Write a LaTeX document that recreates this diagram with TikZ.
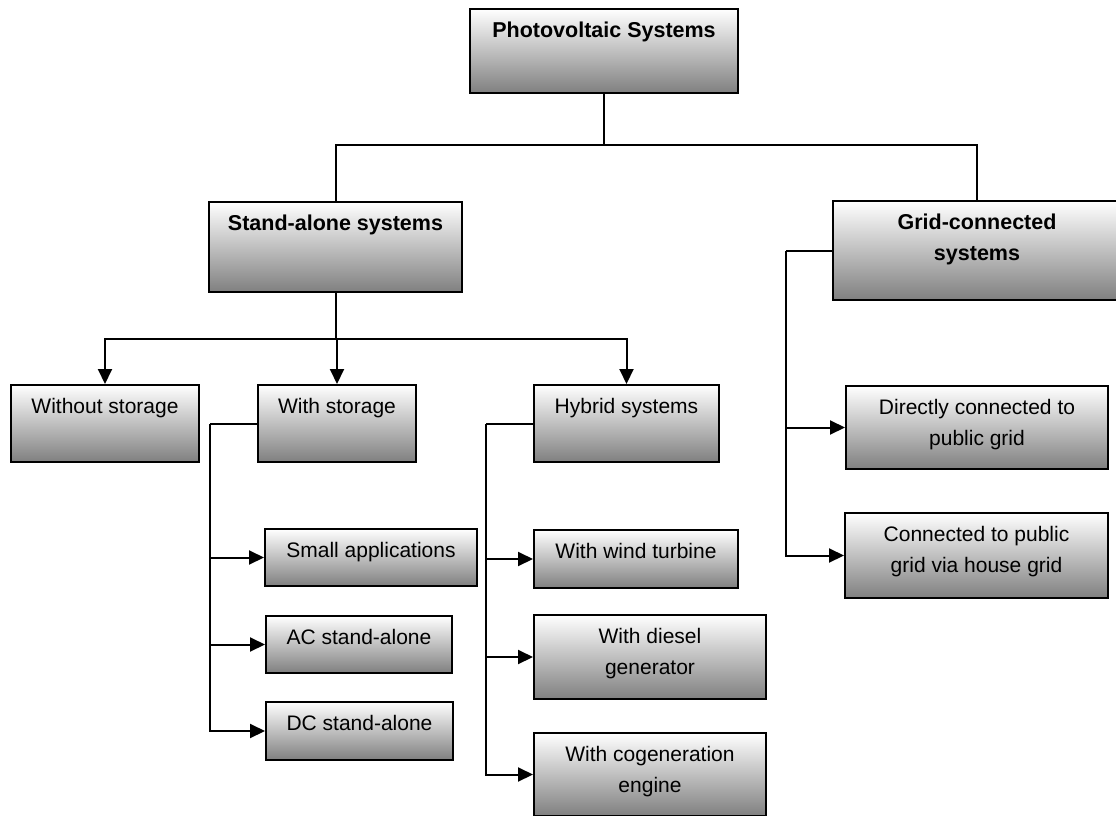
\documentclass[tikz,border=0pt]{standalone}
\usepackage{fontspec}
\setmainfont{Liberation Sans}
\usetikzlibrary{arrows.meta,fit}
\tikzset{
  gbox/.style={draw=black, line width=2pt, top color=white, bottom color=black!50, inner sep=0pt, rectangle},
  boxtext/.style={inner sep=0pt, align=center, font=\fontsize{21}{31}\selectfont},
  headtext/.style={boxtext, font=\fontsize{21.5}{31}\selectfont\bfseries},
  conn/.style={line width=2pt, draw=black},
  arr/.style={conn, -{Triangle[length=15pt,width=14pt]}},
}
\newcommand\pvbox[7][boxtext]{%
  \node[gbox, fit={(#3,#4)(#5,#6)}] (#2) {};
  \node[#1, anchor=north] (#2t) at ([yshift=-14pt]#2.north) {#7};
}
\begin{document}
\begin{tikzpicture}[x=1pt,y=-1pt]
\useasboundingbox (0,0) rectangle (1116,816);
\pvbox[headtext]{pv}{470}{9}{738}{93}{Photovoltaic Systems}
\pvbox[headtext]{sa}{209}{202}{462}{292}{Stand-alone systems}
\pvbox[headtext]{gc}{833}{201}{1121}{300}{Grid-connected\\systems}
\pvbox{wo}{11}{385}{199}{462}{Without storage}
\pvbox{ws}{258}{385}{416}{462}{With storage}
\pvbox{hy}{534}{385}{719}{462}{Hybrid systems}
\pvbox{sm}{265}{529}{477}{586}{Small applications}
\pvbox{ac}{266}{616}{452}{673}{AC stand-alone}
\pvbox{dc}{266}{702}{453}{760}{DC stand-alone}
\pvbox{wt}{534}{530}{738}{588}{With wind turbine}
\pvbox{dg}{534}{615}{766}{699}{With diesel\\generator}
\pvbox{cg}{534}{733}{766}{816}{With cogeneration\\engine}
\pvbox{dp}{846}{386}{1108}{469}{Directly connected to\\public grid}
\pvbox{cp}{845}{513}{1108}{598}{Connected to public\\grid via house grid}

\coordinate (j1) at (604,145);
\draw[conn] (pv.south) -- (j1);
\draw[conn] (j1) -| (sa.north);
\draw[conn] (j1) -| (gc.north);

\coordinate (j2) at (sa.south |- 0,339);
\draw[conn] (sa.south) -- (j2);
\draw[arr] (j2) -| (wo.north);
\draw[arr] (j2) -| (ws.north);
\draw[arr] (j2) -| (hy.north);

\coordinate (wsj) at (210,423.5);
\draw[conn] (ws.west) -- (wsj);
\draw[arr] (wsj) |- (sm.west);
\draw[arr] (wsj) |- (ac.west);
\draw[arr] (wsj) |- (dc.west);

\coordinate (hyj) at (486,423.5);
\draw[conn] (hy.west) -- (hyj);
\draw[arr] (hyj) |- (wt.west);
\draw[arr] (hyj) |- (dg.west);
\draw[arr] (hyj) |- (cg.west);

\coordinate (gcj) at (786,250.5);
\draw[conn] (gc.west) -- (gcj);
\draw[arr] (gcj) |- (dp.west);
\draw[arr] (gcj) |- (cp.west);
\end{tikzpicture}
\end{document}
